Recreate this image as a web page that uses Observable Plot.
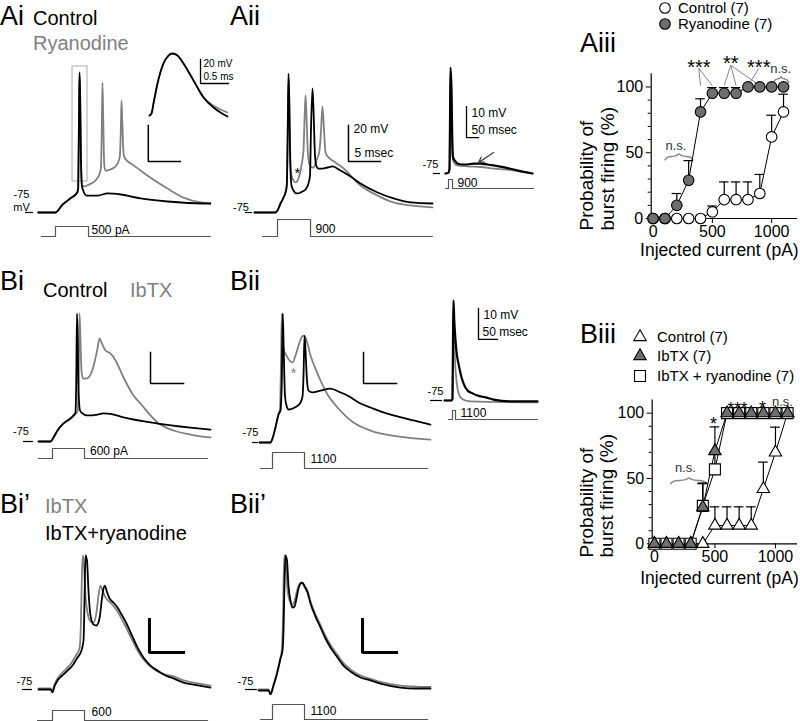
<!DOCTYPE html>
<html>
<head>
<meta charset="utf-8">
<script src="https://cdn.jsdelivr.net/npm/d3@7"></script>
<script src="https://cdn.jsdelivr.net/npm/@observablehq/plot@0.6"></script>
<style>
html,body{margin:0;padding:0;background:#fff;}
#fig{position:relative;width:800px;height:721px;overflow:hidden;background:#fff;}
#fig svg{position:absolute;}
</style>
</head>
<body>
<div id="fig"></div>
<script>
// ================= DATA =================
// Voltage traces: [time (ms), membrane potential (mV)]
const aiControl = [[-2.7,-75],[0,-75],[1.1,-70.6],[2.3,-67.2],[3.4,-63.9],[3.55,-61],[3.68,-18],[3.75,2.8],[3.84,-7],[3.98,-46],[4.14,-60.6],[4.3,-62.5],[4.85,-65.6],[6.6,-65.6],[8.1,-64.4],[10.2,-65],[13.3,-67.2],[17.5,-68.9],[23.1,-70],[24.2,-70]];
const aiRyanodine = [[-2.7,-75],[0,-75],[1.1,-70.6],[2.3,-67.2],[3.4,-63.9],[3.55,-61],[3.68,-18],[3.75,1],[3.84,-8],[3.98,-46],[4.14,-59.4],[4.5,-60.6],[5.2,-59.5],[6.25,-57.2],[6.9,-53.3],[7.1,-50],[7.23,-29],[7.34,-2.8],[7.47,-25],[7.61,-48],[7.8,-51.7],[8.1,-51.7],[8.9,-50.6],[9.7,-47.8],[10.05,-44],[10.2,-30],[10.31,-12.8],[10.44,-25],[10.63,-42],[10.8,-44.4],[11.25,-46.5],[12.0,-48.3],[13.3,-51.7],[14.8,-55.6],[17.5,-61.7],[20,-66.7],[22.7,-69.4],[24.2,-70]];
const aiZoomControl = [[0,-46.7],[0.036,-45],[0.071,-36.7],[0.143,-20],[0.25,-3.3],[0.339,3.3],[0.411,5],[0.5,3.3],[0.607,-3.3],[0.786,-17.5],[0.964,-31.7],[1.143,-40],[1.268,-44.2],[1.393,-47.5]];
const aiZoomRyanodine = [[0,-46.7],[0.036,-45],[0.071,-36.7],[0.143,-20],[0.25,-3.3],[0.339,3.3],[0.411,5],[0.5,3.3],[0.607,-3.3],[0.786,-17.5],[0.964,-31.2],[1.143,-38.5],[1.268,-41.7],[1.393,-44.2]];

const aiiControl = [[-3.6,-75],[-0.3,-75],[0,-73.9],[0.47,-70],[0.94,-66.7],[1.25,-63.9],[1.45,-60],[1.6,-29.4],[1.72,2.2],[1.84,-12.8],[1.98,-46.1],[2.19,-60],[2.5,-62.8],[2.97,-64.4],[3.28,-64.4],[3.91,-63.3],[4.38,-62.2],[4.84,-58.9],[5.08,-54.4],[5.23,-29.4],[5.47,-6.1],[5.63,-18.3],[5.86,-43.3],[6.09,-49.4],[6.41,-50.6],[7.03,-50.6],[7.81,-50],[8.59,-49.4],[9.84,-51.7],[11.41,-55],[12.97,-58.9],[15.63,-63.9],[18.13,-67.2],[20.78,-69.4],[24.22,-70]];
const aiiRyanodine = [[-3.6,-75],[-0.3,-75],[0,-73.9],[0.47,-70],[0.94,-66.7],[1.25,-63.9],[1.45,-60],[1.6,-29.4],[1.72,0.5],[1.84,-12.8],[1.98,-40.6],[2.19,-54.4],[2.5,-57.2],[2.81,-58.3],[3.28,-56.1],[3.75,-48.9],[4.06,-40.6],[4.22,-23.9],[4.38,-10],[4.53,-21.1],[4.77,-43.3],[5.16,-49.4],[5.63,-50],[6.09,-46.1],[6.56,-40.6],[6.8,-29.4],[7.03,-16.1],[7.27,-29.4],[7.5,-41.7],[7.97,-44.4],[8.59,-46.1],[10.16,-50],[12.97,-60],[15.63,-65.6],[18.13,-69.4],[20.78,-71.1],[24.22,-72.2]];
const aiiSlowControl = [[-12.5,-75],[0,-74.7],[4.2,-73.4],[6.3,-57.9],[8.3,-40.8],[12.5,-48.2],[15.8,-64.4],[18.8,-69.8],[29.2,-71.1],[37.5,-71.8],[58.3,-72.1],[79.2,-72.1],[104.2,-71.8],[133.3,-71.8],[162.5,-72.1],[187.5,-72.4],[237.5,-73.1],[270.8,-73.7],[308.3,-74.4],[350,-75]];
const aiiSlowRyanodine = [[-12.5,-75],[0,-74.7],[4.2,-73.4],[6.3,-57.9],[8.3,-41.8],[12.5,-49.8],[15.8,-66],[18.8,-70.8],[29.2,-72.1],[37.5,-72.4],[79.2,-72.7],[133.3,-72.9],[187.5,-73.4],[270.8,-74],[350,-75]];

const biControl = [[-2.12,-75],[-0.3,-75],[0.15,-72.4],[0.76,-67.9],[1.52,-64],[2.27,-61.5],[3.03,-58.9],[3.48,-56.3],[3.6,-35.6],[3.71,7.6],[3.82,-9.8],[3.94,-42.1],[4.17,-55],[4.55,-56.9],[5.15,-58.2],[5.76,-58.2],[6.8,-57.6],[7.73,-56.9],[8.8,-57.2],[10.76,-59.5],[15.91,-63.4],[20.9,-66],[23.94,-67.3]];
const biIbtx = [[-2.12,-75],[-0.3,-75],[0.15,-72.4],[0.76,-67.9],[1.52,-64],[2.27,-61.5],[3.03,-58.9],[3.79,-55.6],[3.94,-42.1],[4.09,7.6],[4.24,-9.8],[4.39,-29.2],[4.62,-34.4],[5.0,-34.4],[5.45,-33.7],[5.91,-30.5],[6.36,-24],[6.82,-15],[7.12,-8.5],[7.42,-11.1],[8.03,-16.3],[8.79,-18.2],[9.55,-22.7],[10.76,-33.7],[12.27,-45.3],[13.33,-50.5],[15.91,-62.7],[18.33,-67.9],[20.9,-70.5],[23.94,-72.4]];
const biiControl = [[-1.97,-75],[-0.3,-75],[0,-72.4],[0.45,-65.3],[0.91,-56.9],[1.21,-54.4],[1.41,-35],[1.56,8.2],[1.7,-15.6],[1.89,-44.7],[2.12,-51.1],[2.42,-53.7],[3.03,-53.1],[3.64,-51.8],[4.24,-49.2],[4.55,-45.3],[4.7,-31.8],[4.85,-6],[5.0,-15.6],[5.23,-35],[5.45,-41.5],[6.06,-42.7],[7.27,-41.5],[8.79,-40.2],[10.3,-42.7],[11.36,-44.7],[13.33,-49.8],[14.85,-52.4],[16.82,-55.6],[18.94,-58.2],[21.36,-60.8],[23.94,-63.4]];
const biiIbtx = [[-1.97,-75],[-0.3,-75],[0,-72.4],[0.45,-65.3],[0.91,-56.9],[1.14,-53.1],[1.29,-22.1],[1.41,8.2],[1.55,-9.2],[1.74,-15.6],[2.12,-18.9],[2.58,-22.1],[3.03,-23.4],[3.48,-18.9],[3.94,-12.4],[4.39,-7.3],[4.7,-6],[5.0,-7.3],[5.3,-11.1],[5.76,-18.9],[6.52,-27.3],[7.27,-35],[8.33,-44],[9.85,-52.4],[12.27,-62.1],[14.85,-67.3],[18.94,-71.1],[23.94,-73.1]];
const biiSlowControl = [[-21,-75],[-2.6,-75],[0,-74.4],[1.3,-55.6],[2.6,-42.7],[4.7,-49.2],[7.9,-55.6],[11.8,-60.5],[15.8,-63.1],[21.1,-66.3],[28.9,-69.5],[39.5,-71.8],[52.6,-72.7],[65.8,-73.4],[86.8,-74],[107.9,-74.7],[160.5,-75.3],[223.7,-75.3]];
const biiSlowIbtx = [[-21,-75],[-2.6,-75],[0,-74.4],[1.3,-55.6],[2.6,-43.4],[4.2,-52.4],[6.6,-62.1],[9.2,-66.9],[13.2,-71.1],[21.1,-74],[34.2,-75],[47.4,-75.3],[223.7,-75.6]];

const bipIbtx = [[-2.06,-74.4],[-0.29,-74.4],[0,-75.6],[0.29,-72],[0.74,-68.3],[1.47,-64.7],[2.21,-61.7],[2.94,-58],[3.53,-53.8],[3.97,-50.2],[4.19,-33.2],[4.34,-2.9],[4.49,6.2],[4.63,0.2],[4.85,-18],[5.15,-28.3],[5.59,-33.8],[6.03,-34.4],[6.47,-28.3],[6.76,-18],[7.06,-12],[7.35,-15],[7.79,-19.2],[8.53,-22.3],[9.26,-25.9],[10,-30.8],[10.74,-36.8],[11.62,-44.1],[12.5,-51.4],[13.38,-56.8],[14.41,-61.1],[15.44,-64.1],[16.62,-65.9],[17.79,-67.1],[19.26,-69.5],[20.74,-70.8],[23.24,-72.6]];
const bipIbtxRyanodine = [[-2.06,-75],[-0.29,-75],[0,-76.8],[0.29,-73.2],[0.74,-69.5],[1.47,-66.5],[2.21,-63.5],[2.94,-60.5],[3.68,-55.6],[4.26,-51.4],[4.56,-45.3],[4.71,-21.1],[4.85,6.2],[5.07,3.2],[5.29,-15],[5.59,-30.2],[6.03,-35.6],[6.47,-36.2],[6.91,-32],[7.28,-19.8],[7.5,-13.8],[7.72,-12],[7.94,-15],[8.38,-19.8],[8.97,-22.3],[9.56,-25.3],[10.15,-29.5],[10.88,-35],[11.62,-41.7],[12.5,-49.5],[13.38,-55.6],[14.41,-60.5],[15.44,-63.5],[16.62,-66.5],[17.79,-68.3],[19.26,-70.8],[20.74,-72],[23.24,-73.8]];
const biipIbtx = [[-2.06,-75],[-0.59,-75],[-0.29,-77],[0.15,-72],[0.59,-66],[0.88,-61],[1.18,-55.5],[1.4,-50],[1.55,-30],[1.72,6.2],[1.95,2],[2.2,-14],[2.55,-21.5],[2.9,-23.5],[3.2,-22],[3.5,-17],[3.82,-12.5],[4.12,-10.2],[4.41,-10.5],[4.71,-12],[5.15,-15.2],[5.59,-21.5],[6.32,-29.5],[7.06,-36],[7.79,-42.5],[8.53,-48],[9.56,-54],[10.44,-59],[11.47,-62.8],[12.94,-66.5],[14.41,-68.5],[15.88,-70.4],[18.82,-72.6],[21.03,-73.2],[23.24,-73.4]];
const biipIbtxRyanodine = [[-2.06,-75.6],[-0.59,-75.6],[-0.29,-78],[0.15,-72.6],[0.59,-66.5],[0.88,-61.7],[1.18,-56.2],[1.47,-51.4],[1.62,-39.2],[1.76,-12],[1.91,6.2],[2.13,3.2],[2.35,-12],[2.65,-21.1],[2.94,-25.3],[3.24,-24.7],[3.53,-19.8],[3.82,-13.8],[4.12,-10.8],[4.41,-10.2],[4.71,-12.6],[5.15,-16.2],[5.59,-22.9],[6.32,-30.8],[7.06,-37.4],[7.79,-44.1],[8.53,-49.5],[9.56,-55.6],[10.44,-60.5],[11.47,-64.1],[12.94,-67.7],[14.41,-69.5],[15.88,-71.4],[18.82,-73.8],[21.03,-74.4],[23.24,-74.4]];

// Current steps: [time (ms), injected current (pA)]
const aiStim = [[-2.2,0],[0,0],[0,500],[5.16,500],[5.16,0],[24.2,0]];
const aiiStim = [[-2.34,0],[0,0],[0,900],[5.16,900],[5.16,0],[24.2,0]];
const aiiSlowStim = [[-12.5,0],[0,0],[0,900],[16.7,900],[16.7,0],[354,0]];
const biStim = [[-2.12,0],[0,0],[0,600],[4.85,600],[4.85,0],[23.5,0]];
const biiStim = [[-1.82,0],[0,0],[0,1100],[4.85,1100],[4.85,0],[23.48,0]];
const biiSlowStim = [[-10.5,0],[0,0],[0,1100],[7.9,1100],[7.9,0],[223.7,0]];
const bipStim = [[-2.2,0],[0,0],[0,600],[4.71,600],[4.71,0],[22.8,0]];
const biipStim = [[-1.76,0],[0,0],[0,1100],[4.71,1100],[4.71,0],[22.8,0]];
const stimLabels = ["500 pA","900","900","600 pA","1100","1100","600","1100"];

// Burst-firing probability vs injected current
const currents = [0,100,200,300,400,500,600,700,800,900,1000,1100];
const aiiiControlMean = [0,0,0,0,0,5,14.3,14.3,14.3,19,62,81];
const aiiiControlSem  = [0,0,0,0,0,4.5,13.5,13.5,13.5,14.5,16.5,13.5];
const aiiiRyanMean    = [0,0,10,29,81,95.2,95.2,95.2,100,100,100,100];
const aiiiRyanSem     = [0,0,9,15,10,4.3,4.3,4.3,0,0,0,0];
const biiiControlMean = [0,0,0,0,0,14,14,14,14,42,70,100];
const biiiControlSem  = [0,0,0,0,0,14.3,14.3,14.3,14.3,20.5,19.3,0];
const biiiIbtxMean    = [0,0,0,0,28,71,100,100,100,100,100,100];
const biiiIbtxSem     = [0,0,0,0,18.5,18.5,0,0,0,0,0,0];
const biiiIbtxRyanMean= [0,0,0,0,29,57,100,100,100,100,100,100];
const biiiIbtxRyanSem = [0,0,0,0,17,13,0,0,0,0,0,0];
const xTicks = [0,500,1000];
const yTicks = [0,50,100];

// ================= RENDER =================
const FONT = "'Liberation Sans', Arial, Helvetica, sans-serif";
const BLACK = "#000", GRAY = "#808080", STIM = "#555", FILLGRAY = "#6e6e6e";
const fig = document.getElementById("fig");
function place(svg, left, top) { svg.style.left = left + "px"; svg.style.top = top + "px"; fig.appendChild(svg); }

function panel({left, top, width, height, px, py, x0 = 0, y0 = -75, kx, ky, marks}) {
  const svg = Plot.plot({
    width, height, margin: 0,
    x: {domain: [x0 - (px - left) / kx, x0 + (left + width - px) / kx], axis: null},
    y: {domain: [y0 - (top + height - py) / ky, y0 + (py - top) / ky], axis: null},
    style: {background: "transparent", overflow: "visible", fontFamily: FONT, fontSize: "12px", color: "#000"},
    marks
  });
  place(svg, left, top);
}
const trace = (data, stroke, w = 1.8) => Plot.line(data, {x: d => d[0], y: d => d[1], stroke, strokeWidth: w, curve: "monotone-x"});
const bar = (b, w = 1.5) => Plot.line([[b.t, b.v + b.dv], [b.t, b.v], [b.t + b.dt, b.v]], {x: d => d[0], y: d => d[1], stroke: BLACK, strokeWidth: w, strokeLinejoin: "miter", strokeLinecap: "square"});
const barText = (b, s, dx, dy, fs = 12) => Plot.text([s], {x: b.t, y: b.v, dx, dy, textAnchor: "start", fontSize: fs});
const rest = (a, b, label, dx, dy, extra = []) => [
  Plot.ruleY([-75], {x1: a, x2: b, stroke: BLACK, strokeWidth: 1.2}),
  Plot.text([label], {x: a, y: -75, dx, dy, fontSize: 11}),
  ...extra
];
function stim({left, top, width, height, px, py, kx, ky, data, label, dx, dy}) {
  const end = data[data.length - 3][0];
  panel({left, top, width, height, px, py, y0: 0, kx, ky, marks: [
    Plot.line(data, {x: d => d[0], y: d => d[1], stroke: STIM, strokeWidth: 1.2, curve: "linear"}),
    Plot.text([label], {x: end, y: 0, dx, dy, textAnchor: "start", fontSize: 12})
  ]});
}

// ---- Ai ----
panel({left: 0, top: 40, width: 240, height: 185, px: 55, py: 212, kx: 6.4, ky: 1.8, marks: [
  Plot.rect([{x1: 2.66, x2: 5.0, y1: -57.8, y2: 6.1}], {x1: "x1", x2: "x2", y1: "y1", y2: "y2", fill: "none", stroke: "#aaa", strokeWidth: 1}),
  trace(aiRyanodine, GRAY), trace(aiControl, BLACK),
  bar({t: 14.5, v: -46.7, dt: 5, dv: 20}),
  ...rest(-4.69, -3.44, "-75", -4, -18, [Plot.text(["mV"], {x: -4.69, y: -75, dx: -4, dy: -5, fontSize: 11})])
]});
panel({left: 140, top: 45, width: 100, height: 80, px: 149, py: 53, y0: 5, kx: 56, ky: 1.2, marks: [
  trace(aiZoomRyanodine, GRAY, 1.6), trace(aiZoomControl, BLACK, 1.8),
  bar({t: 0.911, v: -20, dt: 0.5, dv: 20}, 1.3),
  barText({t: 0.911, v: -20}, "20 mV", 3, -19.5, 10),
  barText({t: 0.911, v: -20}, "0.5 ms", 3, -7, 10)
]});
stim({left: 30, top: 215, width: 200, height: 28, px: 55, py: 236, kx: 6.4, ky: 10 / 500, data: aiStim, label: stimLabels[0], dx: 3, dy: -6});

// ---- Aii ----
panel({left: 225, top: 60, width: 215, height: 160, px: 277, py: 212, kx: 6.4, ky: 1.8, marks: [
  trace(aiiRyanodine, GRAY), trace(aiiControl, BLACK),
  Plot.text(["*"], {x: 3.13, y: -50.6, dy: 5, fontSize: 15}),
  bar({t: 11.09, v: -46.7, dt: 5, dv: 20}),
  barText({t: 11.09, v: -46.7}, "20 mV", 5, -32),
  barText({t: 11.09, v: -46.7}, "5 msec", 6, -8),
  ...rest(-5.0, -3.9, "-75", -4.5, -5)
]});
panel({left: 415, top: 60, width: 125, height: 118, px: 448, py: 173, kx: 0.24, ky: 3.1, marks: [
  trace(aiiSlowRyanodine, GRAY, 1.8), trace(aiiSlowControl, BLACK, 2.2),
  Plot.arrow([{x1: 187.5, y1: -68.2, x2: 125, y2: -71.5}], {x1: "x1", y1: "y1", x2: "x2", y2: "y2", stroke: "#444", strokeWidth: 1.3, headLength: 7}),
  bar({t: 75, v: -63.4, dt: 50, dv: 10}, 1.3),
  barText({t: 75, v: -63.4}, "10 mV", 5, -24.5),
  barText({t: 75, v: -63.4}, "50 msec", 5, -7),
  ...rest(-62.5, -33.3, "-75", -3, -9.5)
]});
stim({left: 255, top: 212, width: 185, height: 28, px: 277, py: 236, kx: 6.4, ky: 17 / 900, data: aiiStim, label: stimLabels[1], dx: 5, dy: -7});
stim({left: 440, top: 172, width: 100, height: 22, px: 448, py: 188, kx: 0.24, ky: 9 / 900, data: aiiSlowStim, label: stimLabels[2], dx: 5, dy: -5});

// ---- Bi ----
panel({left: 0, top: 300, width: 240, height: 148, px: 52, py: 441, kx: 6.6, ky: 1.55, marks: [
  trace(biIbtx, GRAY), trace(biControl, BLACK),
  bar({t: 14.85, v: -37.6, dt: 5, dv: 20}, 1.5),
  ...rest(-4.39, -2.88, "-75", -2.5, -10)
]});
stim({left: 30, top: 440, width: 190, height: 25, px: 52, py: 458, kx: 6.6, ky: 10 / 600, data: biStim, label: stimLabels[3], dx: 5.5, dy: -7});

// ---- Bii ----
panel({left: 228, top: 300, width: 212, height: 148, px: 272, py: 442, kx: 6.6, ky: 1.55, marks: [
  trace(biiIbtx, GRAY), trace(biiControl, BLACK),
  Plot.text(["*"], {x: 3.18, y: -27.3, dy: 5, fontSize: 15, fill: GRAY}),
  bar({t: 13.79, v: -36.9, dt: 5, dv: 20}, 1.5),
  ...rest(-3.03, -2.12, "-75", -2, -10)
]});
panel({left: 420, top: 290, width: 125, height: 115, px: 452, py: 400, kx: 0.38, ky: 3.1, marks: [
  trace(biiSlowIbtx, GRAY, 1.8), trace(biiSlowControl, BLACK, 2.2),
  bar({t: 68.4, v: -55.3, dt: 50, dv: 10}, 1.3),
  barText({t: 68.4, v: -55.3}, "10 mV", 5, -24),
  barText({t: 68.4, v: -55.3}, "50 msec", 4, -7),
  ...rest(-57.9, -26.3, "-75", 5, -9)
]});
stim({left: 250, top: 445, width: 190, height: 28, px: 272, py: 468, kx: 6.6, ky: 16 / 1100, data: biiStim, label: stimLabels[4], dx: 6, dy: -9});
stim({left: 440, top: 402, width: 105, height: 22, px: 452, py: 419, kx: 0.38, ky: 9 / 1100, data: biiSlowStim, label: stimLabels[5], dx: 5, dy: -6});

// ---- Bi' ----
panel({left: 0, top: 545, width: 240, height: 152, px: 52, py: 689, kx: 6.8, ky: 1.65, marks: [
  trace(bipIbtx, GRAY), trace(bipIbtxRyanodine, BLACK),
  bar({t: 14.26, v: -52.6, dt: 5, dv: 20}, 3),
  ...rest(-4.41, -2.94, "-75", 2, -8)
]});
stim({left: 30, top: 698, width: 190, height: 23, px: 52, py: 720, kx: 6.8, ky: 10 / 600, data: bipStim, label: stimLabels[6], dx: 7, dy: -8});

// ---- Bii' ----
panel({left: 228, top: 545, width: 212, height: 152, px: 272, py: 689, kx: 6.8, ky: 1.65, marks: [
  trace(biipIbtx, GRAY), trace(biipIbtxRyanodine, BLACK),
  bar({t: 13.24, v: -52.6, dt: 5, dv: 20}, 3),
  ...rest(-3.97, -2.21, "-75", 0, -8)
]});
stim({left: 250, top: 698, width: 190, height: 23, px: 272, py: 719, kx: 6.8, ky: 15 / 1100, data: biipStim, label: stimLabels[7], dx: 6, dy: -8});

// ---- scatter plots ----
function brace(x1, x2, y, h) {
  const m = (x1 + x2) / 2, w = x2 - x1;
  return [[x1, y - h], [x1 + w * 0.08, y - h * 0.15], [x1 + w * 0.22, y], [m - w * 0.07, y + h * 0.1], [m, y + h], [m + w * 0.07, y + h * 0.1], [x2 - w * 0.22, y], [x2 - w * 0.08, y - h * 0.15], [x2, y - h]];
}
function scatter({left, top, width, height, mL, mR, mT, mB, xDomain, series, notes, braces, links, yTitleDx, yTitleDy, xTitleDx, xTitleDy}) {
  const rows = s => currents.map((x, i) => ({x, m: s.mean[i], s: s.sem[i]}));
  const cap = 40;
  const marks = [
    Plot.ruleY([0], {x1: xDomain[0], x2: xDomain[1], stroke: BLACK, strokeWidth: 1.2}),
    Plot.ruleX([xDomain[0]], {y1: 0, y2: 110, stroke: BLACK, strokeWidth: 1.2}),
    Plot.axisY({ticks: d3.range(10, 100, 10).filter(v => v !== 50), tickSize: 3, tickFormat: () => "", label: null}),
    Plot.axisY({ticks: yTicks, tickSize: 5, tickPadding: 3, fontSize: 16, tickFormat: d => String(d), label: null}),
    Plot.axisX({ticks: xTicks, tickSize: 5, tickPadding: 2, fontSize: 16, tickFormat: d => String(d), label: null}),
    ...links.map(l => Plot.link([l], {x1: "x1", y1: "y1", x2: "x2", y2: "y2", stroke: "#777", strokeWidth: 0.9})),
    ...braces.map(b => Plot.line(brace(b.x1, b.x2, b.y, 2.6), {x: d => d[0], y: d => d[1], stroke: "#888", strokeWidth: 1.4, curve: "basis"})),
    ...series.flatMap(s => {
      const d = rows(s), e = d.filter(p => p.s > 0);
      return [
        Plot.line(d, {x: "x", y: "m", stroke: BLACK, strokeWidth: 1}),
        Plot.ruleX(e, {x: "x", y1: "m", y2: p => p.m + p.s, stroke: BLACK, strokeWidth: 1.2}),
        Plot.ruleY(e, {y: p => p.m + p.s, x1: p => p.x - cap, x2: p => p.x + cap, stroke: BLACK, strokeWidth: 1.2})
      ];
    }),
    ...series.map(s => Plot.dot(rows(s), {x: "x", y: "m", symbol: s.symbol, r: s.r, fill: s.fill, stroke: BLACK, strokeWidth: 1.1})),
    ...notes.map(n => Plot.text([n], {x: "x", y: "y", text: "s", fontSize: n.fs, dy: n.s.startsWith("*") ? n.fs * 0.25 : 0, fill: n.s.startsWith("*") ? "#000" : "#333"})),
    Plot.text(["Probability of"], {frameAnchor: "bottom-left", rotate: -90, textAnchor: "start", dx: yTitleDx[0], dy: yTitleDy, fontSize: 19}),
    Plot.text(["burst firing (%)"], {frameAnchor: "bottom-left", rotate: -90, textAnchor: "start", dx: yTitleDx[1], dy: yTitleDy, fontSize: 19}),
    Plot.text(["Injected current (pA)"], {frameAnchor: "bottom", dx: xTitleDx, dy: xTitleDy, fontSize: 17.5})
  ];
  const svg = Plot.plot({
    width, height, marginLeft: mL, marginRight: mR, marginTop: mT, marginBottom: mB,
    x: {domain: xDomain, label: null}, y: {domain: [0, 110], label: null},
    style: {background: "transparent", overflow: "visible", fontFamily: FONT, fontSize: "16px", color: "#000"},
    marks
  });
  place(svg, left, top);
}

scatter({
  left: 560, top: 0, width: 240, height: 270, mL: 90.7, mR: 3, mT: 73.3, mB: 52, xDomain: [-16, 1218],
  series: [
    {mean: aiiiControlMean, sem: aiiiControlSem, symbol: "circle", r: 5.3, fill: "#fff"},
    {mean: aiiiRyanMean, sem: aiiiRyanSem, symbol: "circle", r: 5.3, fill: FILLGRAY}
  ],
  notes: [
    {x: 386, y: 118.8, s: "***", fs: 20}, {x: 655, y: 121.9, s: "**", fs: 20}, {x: 891, y: 118.8, s: "***", fs: 20},
    {x: 193, y: 55.6, s: "n.s.", fs: 13}, {x: 1076, y: 114, s: "n.s.", fs: 13}
  ],
  braces: [{x1: 100, x2: 336, y: 47.2}, {x1: 1017, x2: 1143, y: 106}],
  links: [
    {x1: 386, y1: 114, x2: 400, y2: 101}, {x1: 386, y1: 114, x2: 500, y2: 101},
    {x1: 655, y1: 116.5, x2: 600, y2: 101}, {x1: 655, y1: 116.5, x2: 700, y2: 101}, {x1: 655, y1: 116.5, x2: 900, y2: 101},
    {x1: 891, y1: 114, x2: 800, y2: 101}
  ],
  yTitleDx: [-58.7, -37.7], yTitleDy: 12, xTitleDx: -5, xTitleDy: 37
});

scatter({
  left: 560, top: 330, width: 240, height: 270, mL: 91.7, mR: 3, mT: 69.6, mB: 56.7, xDomain: [-18, 1182],
  series: [
    {mean: biiiControlMean, sem: biiiControlSem, symbol: "triangle", r: 4.6, fill: "#fff"},
    {mean: biiiIbtxRyanMean, sem: biiiIbtxRyanSem, symbol: "square", r: 6.2, fill: "#fff"},
    {mean: biiiIbtxMean, sem: biiiIbtxSem, symbol: "triangle", r: 4.6, fill: FILLGRAY}
  ],
  notes: [
    {x: 256, y: 58.4, s: "n.s.", fs: 13}, {x: 488, y: 95.2, s: "*", fs: 18},
    {x: 686, y: 106.5, s: "***", fs: 17}, {x: 893, y: 107.5, s: "*", fs: 18}, {x: 1058, y: 109, s: "n.s.", fs: 13}
  ],
  braces: [{x1: 132, x2: 438, y: 48.5}, {x1: 612, x2: 835, y: 102.8}, {x1: 983, x2: 1124, y: 102}],
  links: [],
  yTitleDx: [-59.7, -39.7], yTitleDy: 13.7, xTitleDx: -5.4, xTitleDy: 39.7
});

// ---- titles & legends (overlay) ----
const panelTitles = [["Ai", 0, 25], ["Aii", 230, 25], ["Aiii", 580, 52], ["Bi", 0, 290], ["Bii", 230, 290], ["Biii", 580, 343], ["Bi\u2019", 0, 513], ["Bii\u2019", 230, 513]];
const conditionLabels = [["Control", 33, 25, BLACK], ["Ryanodine", 33, 50, GRAY], ["Control", 43, 297, BLACK], ["IbTX", 130, 297, GRAY], ["IbTX", 45, 513, GRAY], ["IbTX+ryanodine", 45, 540, BLACK]];
const legendA = [{sym: d3.symbolCircle, size: Math.PI * 5.3 * 5.3, fill: "#fff", label: "Control (7)", cy: 8}, {sym: d3.symbolCircle, size: Math.PI * 5.3 * 5.3, fill: FILLGRAY, label: "Ryanodine (7)", cy: 24}];
const legendB = [{sym: d3.symbolTriangle, size: Math.PI * 4.6 * 4.6, fill: "#fff", label: "Control (7)", cy: 337}, {sym: d3.symbolTriangle, size: Math.PI * 4.6 * 4.6, fill: FILLGRAY, label: "IbTX (7)", cy: 356}, {sym: d3.symbolSquare, size: Math.PI * 6.2 * 6.2, fill: "#fff", label: "IbTX + ryanodine (7)", cy: 376}];

const overlay = d3.create("svg").attr("width", 800).attr("height", 721).style("left", "0px").style("top", "0px").style("font-family", FONT).style("overflow", "visible");
panelTitles.forEach(([s, x, y]) => overlay.append("text").attr("x", x).attr("y", y).attr("font-size", 27).text(s));
conditionLabels.forEach(([s, x, y, c]) => overlay.append("text").attr("x", x).attr("y", y).attr("font-size", 20).attr("fill", c).text(s));
function legend(items, mx, tx) {
  items.forEach(it => {
    overlay.append("path").attr("d", d3.symbol(it.sym, it.size)()).attr("transform", `translate(${mx},${it.cy})`).attr("fill", it.fill).attr("stroke", BLACK).attr("stroke-width", 1.1);
    overlay.append("text").attr("x", tx).attr("y", it.cy + 5.3).attr("font-size", 15).text(it.label);
  });
}
legend(legendA, 665, 678);
legend(legendB, 640, 657);
fig.appendChild(overlay.node());
</script>
</body>
</html>
